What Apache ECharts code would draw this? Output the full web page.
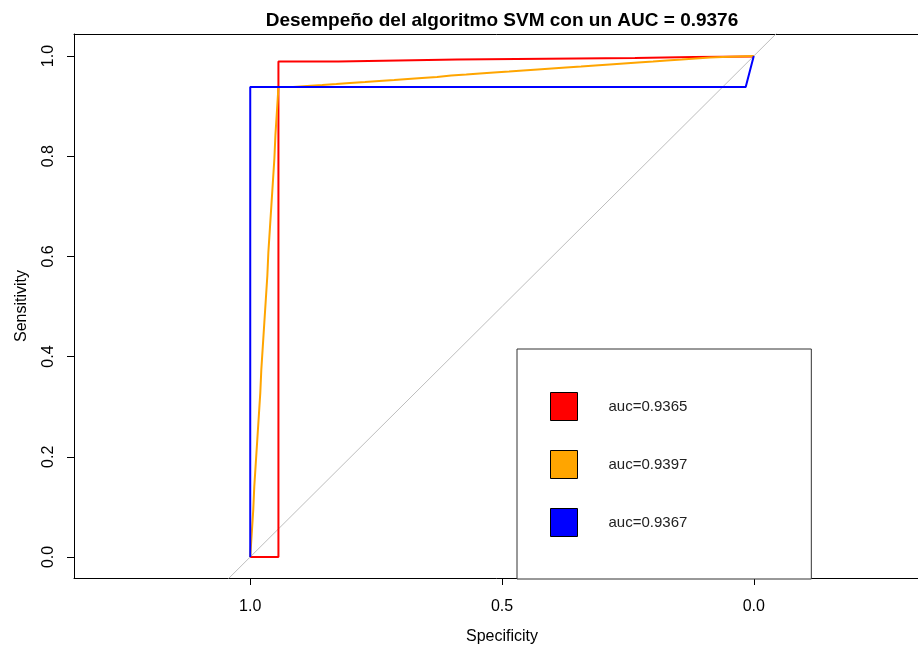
<!DOCTYPE html>
<html>
<head>
<meta charset="utf-8">
<script src="https://cdn.jsdelivr.net/npm/echarts@6/dist/echarts.min.js"></script>
<style>html,body{margin:0;padding:0;background:#fff;}#chart{width:918px;height:645px;}</style>
</head>
<body>
<div id="chart"></div>
<script>
// ---- data ----
const chartTitle = 'Desempeño del algoritmo SVM con un AUC = 0.9376';
const xTicks = [0, 0.5, 1];
const yTicks = [0, 0.2, 0.4, 0.6, 0.8, 1.0];

const redName = 'auc=0.9365';
const redSpec = [1.000, 0.944, 0.944, 0.825, 0.706, 0.589, 0.472, 0.353, 0.236, 0.119, 0.002, 0.000];
const redSens = [0.000, 0.000, 0.989, 0.991, 0.993, 0.994, 0.995, 0.996, 0.998, 0.999, 1.000, 1.000];

const orangeName = 'auc=0.9397';
const orangeSpec = [1.000, 0.997, 0.994, 0.992, 0.989, 0.986, 0.983, 0.980, 0.978, 0.975, 0.972,
  0.969, 0.966, 0.964, 0.961, 0.958, 0.955, 0.952, 0.950, 0.947, 0.944,
  0.915, 0.887, 0.857, 0.829, 0.802, 0.772, 0.744, 0.714, 0.687, 0.659, 0.629, 0.601,
  0.571, 0.544, 0.516, 0.486, 0.458, 0.429, 0.401, 0.373, 0.343, 0.315, 0.286, 0.258,
  0.230, 0.200, 0.173, 0.143, 0.115, 0.087, 0.062, 0.000];
const orangeSens = [0.000, 0.047, 0.094, 0.140, 0.187, 0.234, 0.281, 0.328, 0.374, 0.421, 0.468,
  0.515, 0.562, 0.608, 0.655, 0.702, 0.749, 0.796, 0.842, 0.889, 0.938,
  0.940, 0.942, 0.944, 0.946, 0.948, 0.950, 0.952, 0.954, 0.956, 0.958, 0.961, 0.963,
  0.965, 0.967, 0.969, 0.971, 0.973, 0.975, 0.977, 0.979, 0.981, 0.983, 0.985, 0.987,
  0.989, 0.991, 0.993, 0.995, 0.997, 0.998, 1.000, 1.000];

const blueName = 'auc=0.9367';
const blueSpec = [1.000, 1.000, 0.016, 0.000];
const blueSens = [0.000, 0.938, 0.938, 1.000];

// chance diagonal (sensitivity = 1 - specificity), drawn past the box and clipped
const chanceSpec = [1.2, -0.2];
const chanceSens = [-0.2, 1.2];

const zip = (a, b) => a.map((v, i) => [v, b[i]]);
const FONT = '"Liberation Sans", Arial, Helvetica, sans-serif';
const X_MIN = -0.35, X_MAX = 1.35, Y_MIN = -0.042, Y_MAX = 1.044;

const chart = echarts.init(document.getElementById('chart'), null, {renderer: 'canvas'});
chart.setOption({
  animation: false,
  backgroundColor: '#ffffff',
  title: {
    text: chartTitle,
    left: 497, top: 6, textAlign: 'center',
    textStyle: {fontFamily: FONT, fontSize: 19, fontWeight: 'bold', color: '#000'}
  },
  grid: {left: 74, top: 34, bottom: 67, width: 856, show: false, outerBoundsMode: 'none', containLabel: false},
  xAxis: [{
    type: 'value', inverse: true, min: X_MIN, max: X_MAX,
    name: 'Specificity', nameLocation: 'middle', nameGap: 51,
    nameTextStyle: {fontFamily: FONT, fontSize: 16, color: '#000'},
    axisLine: {show: true, onZero: false, lineStyle: {color: '#000', width: 1}},
    axisTick: {show: true, inside: false, length: 7, lineStyle: {color: '#000'}, customValues: xTicks},
    axisLabel: {show: true, margin: 21, fontFamily: FONT, fontSize: 16, color: '#000', customValues: xTicks,
      formatter: v => Number(v).toFixed(1)},
    splitLine: {show: false}
  }, {
    type: 'value', position: 'top', inverse: true, min: X_MIN, max: X_MAX,
    axisLine: {show: true, onZero: false, lineStyle: {color: '#000', width: 1}},
    axisTick: {show: false}, axisLabel: {show: false}, splitLine: {show: false}
  }],
  yAxis: {
    type: 'value', min: Y_MIN, max: Y_MAX,
    name: 'Sensitivity', nameLocation: 'middle', nameGap: 44, nameRotate: 90,
    nameTextStyle: {fontFamily: FONT, fontSize: 16, color: '#000'},
    axisLine: {show: true, onZero: false, lineStyle: {color: '#000', width: 1}},
    axisTick: {show: true, inside: false, length: 7, lineStyle: {color: '#000'}, customValues: yTicks},
    axisLabel: {show: true, margin: 17, rotate: 90, fontFamily: FONT, fontSize: 16, color: '#000', customValues: yTicks,
      formatter: v => Number(v).toFixed(1)},
    splitLine: {show: false}
  },
  legend: {
    show: true, orient: 'vertical', left: 517, top: 349,
    data: [redName, orangeName, blueName],
    icon: 'rect', itemWidth: 27, itemHeight: 28, itemGap: 29,
    itemStyle: {borderColor: '#000', borderWidth: 1},
    selectedMode: false,
    padding: [43, 124, 42, 33],
    borderColor: '#333', borderWidth: 1, backgroundColor: '#fff',
    textStyle: {fontFamily: FONT, fontSize: 15, color: '#222', padding: [0, 0, 0, 26]}
  },
  series: [
    {name: 'chance', type: 'line', data: zip(chanceSpec, chanceSens), showSymbol: false, silent: true,
      lineStyle: {color: '#bdbdbd', width: 1}, itemStyle: {color: '#bdbdbd'}, clip: true, z: 1},
    {name: redName, type: 'line', data: zip(redSpec, redSens), step: 'end', showSymbol: false,
      lineStyle: {color: '#ff0000', width: 2}, itemStyle: {color: '#ff0000'}, clip: true, z: 2},
    {name: orangeName, type: 'line', data: zip(orangeSpec, orangeSens), step: 'end', showSymbol: false,
      lineStyle: {color: '#ffa500', width: 2}, itemStyle: {color: '#ffa500'}, clip: true, z: 3},
    {name: blueName, type: 'line', data: zip(blueSpec, blueSens), showSymbol: false,
      lineStyle: {color: '#0000ff', width: 2}, itemStyle: {color: '#0000ff'}, clip: true, z: 4}
  ]
});
</script>
</body>
</html>
